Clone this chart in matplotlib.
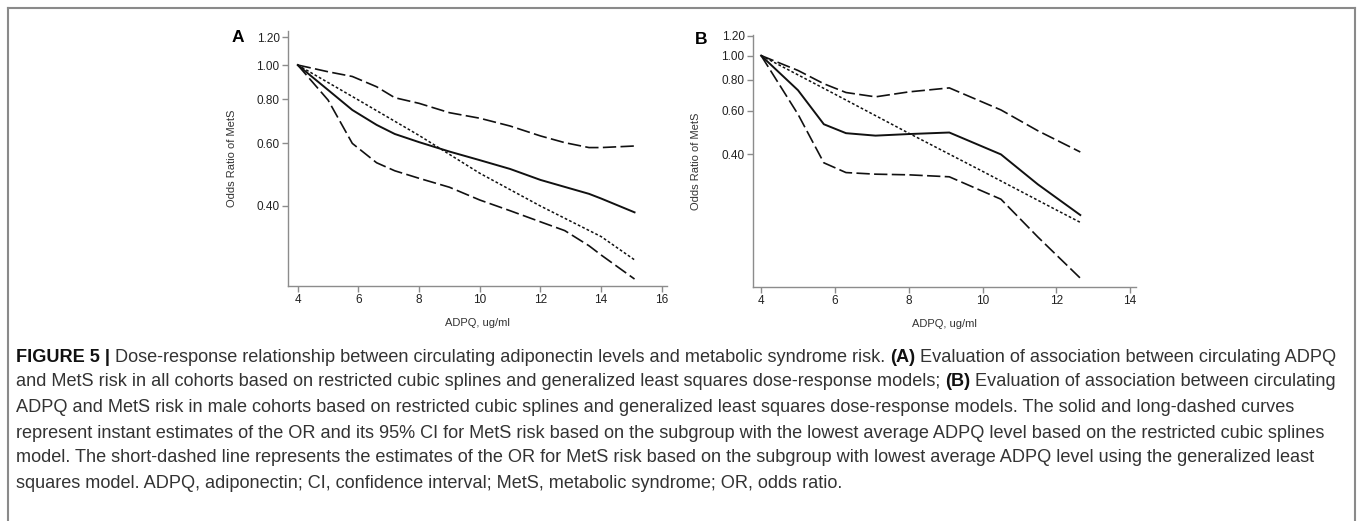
import numpy as np
import matplotlib
matplotlib.use("Agg")
from matplotlib import pyplot as plt
from matplotlib.lines import Line2D

plt.rcParams['font.family'] = ['Liberation Sans', 'DejaVu Sans']

# panel A: all cohorts
a_x = [4, 5, 5.8, 6.6, 7.2, 8, 9, 10, 11, 12, 12.8, 13.6, 14, 15.1]
a_or = [1.0, 0.85, 0.746, 0.677, 0.638, 0.605, 0.569, 0.538, 0.508, 0.473, 0.452, 0.432, 0.419, 0.383]
a_hi = [1.0, 0.957, 0.928, 0.868, 0.808, 0.779, 0.733, 0.707, 0.672, 0.630, 0.603, 0.584, 0.584, 0.590]
a_lo = [1.0, 0.796, 0.60, 0.529, 0.502, 0.478, 0.451, 0.415, 0.387, 0.360, 0.340, 0.308, 0.290, 0.248]
a_gls_x = [4, 6, 8, 10, 12, 14, 15.1]
a_gls = [1.0, 0.796, 0.632, 0.494, 0.399, 0.327, 0.281]

# panel B: male cohorts
b_x = [4, 5, 5.7, 6.3, 7.1, 8, 9.1, 10.5, 11.5, 12.65]
b_or = [1.0, 0.725, 0.529, 0.487, 0.476, 0.483, 0.490, 0.400, 0.303, 0.228]
b_hi = [1.0, 0.871, 0.77, 0.710, 0.682, 0.714, 0.741, 0.604, 0.498, 0.409]
b_lo = [1.0, 0.58, 0.37, 0.338, 0.333, 0.331, 0.325, 0.264, 0.186, 0.127]
b_gls_x = [4, 6, 8, 10, 12, 12.65]
b_gls = [1.0, 0.699, 0.487, 0.342, 0.239, 0.213]

y_ticks = [0.40, 0.60, 0.80, 1.00, 1.20]

caption = [
    [("FIGURE 5 |", True), (" Dose-response relationship between circulating adiponectin levels and metabolic syndrome risk. ", False),
     ("(A)", True), (" Evaluation of association between circulating ADPQ", False)],
    [("and MetS risk in all cohorts based on restricted cubic splines and generalized least squares dose-response models; ", False),
     ("(B)", True), (" Evaluation of association between circulating", False)],
    [("ADPQ and MetS risk in male cohorts based on restricted cubic splines and generalized least squares dose-response models. The solid and long-dashed curves", False)],
    [("represent instant estimates of the OR and its 95% CI for MetS risk based on the subgroup with the lowest average ADPQ level based on the restricted cubic splines", False)],
    [("model. The short-dashed line represents the estimates of the OR for MetS risk based on the subgroup with lowest average ADPQ level using the generalized least", False)],
    [("squares model. ADPQ, adiponectin; CI, confidence interval; MetS, metabolic syndrome; OR, odds ratio.", False)],
]

W, H = 1358, 521
fig = plt.figure(figsize=(W / 100, H / 100), dpi=100)

long_dash = (0, (8, 2.6))
short_dash = (0, (1.8, 1.4))


def panel(rect, x, y_or, y_lo, y_hi, gx, gy, xlim, ylim, xticks, letter, letter_xy):
    ax = fig.add_axes(rect)
    ax.plot(x, y_hi, color='#111111', lw=1.2, ls=long_dash)
    ax.plot(x, y_lo, color='#111111', lw=1.2, ls=long_dash)
    ax.plot(gx, gy, color='#111111', lw=1.1, ls=short_dash)
    ax.plot(x, y_or, color='#111111', lw=1.4)
    ax.set_yscale('log')
    ax.set_xlim(*xlim)
    ax.set_ylim(*ylim)
    ax.set_xticks(xticks)
    ax.set_yticks(y_ticks)
    ax.set_yticklabels([f"{v:.2f}" for v in y_ticks])
    ax.minorticks_off()
    for s in ['top', 'right']:
        ax.spines[s].set_visible(False)
    for s in ['left', 'bottom']:
        ax.spines[s].set_color('#8c8c8c')
        ax.spines[s].set_linewidth(1.0)
    ax.tick_params(colors='#8c8c8c', labelcolor='#222222', labelsize=8.5, length=4, width=1.0, pad=2)
    ax.set_ylabel("Odds Ratio of MetS", fontsize=8, color='#333333')
    ax.set_xlabel("ADPQ, ug/ml", fontsize=8, color='#333333', va='center')
    ax.yaxis.set_label_coords(-0.135, 0.5)
    ax.xaxis.set_label_coords(0.5, -0.145)
    fig.text(letter_xy[0] / W, 1 - letter_xy[1] / H, letter, fontsize=12.5, fontweight='bold',
             ha='center', va='center')
    return ax


panel([288 / W, 1 - 286 / H, 379 / W, 255 / H], a_x, a_or, a_lo, a_hi, a_gls_x, a_gls,
      (3.68, 16.17), (0.237, 1.248), range(4, 17, 2), 'A', (238, 38))
panel([753 / W, 1 - 287 / H, 383 / W, 252 / H], b_x, b_or, b_lo, b_hi, b_gls_x, b_gls,
      (3.78, 14.16), (0.117, 1.21), range(4, 15, 2), 'B', (701, 39))

# grey frame (open at the bottom)
frame = dict(color='#8a8a8a', lw=1.5, transform=fig.transFigure)
fig.add_artist(Line2D([8 / W, 1355 / W], [1 - 8 / H, 1 - 8 / H], **frame))
fig.add_artist(Line2D([8 / W, 8 / W], [1 - 8 / H, 0], **frame))
fig.add_artist(Line2D([1355 / W, 1355 / W], [1 - 8 / H, 0], **frame))

# caption with bold pieces
renderer = fig.canvas.get_renderer()
line_y = [357, 382, 408, 433, 458, 483]
for segs, yy in zip(caption, line_y):
    xx = 16
    for txt, bold in segs:
        t = fig.text(xx / W, 1 - yy / H, txt, fontsize=13.05, va='center', ha='left',
                     fontweight='bold' if bold else 'normal',
                     color='#111111' if bold else '#333333')
        bb = t.get_window_extent(renderer=renderer)
        xx += bb.width

fig.savefig("out.png", dpi=100)
